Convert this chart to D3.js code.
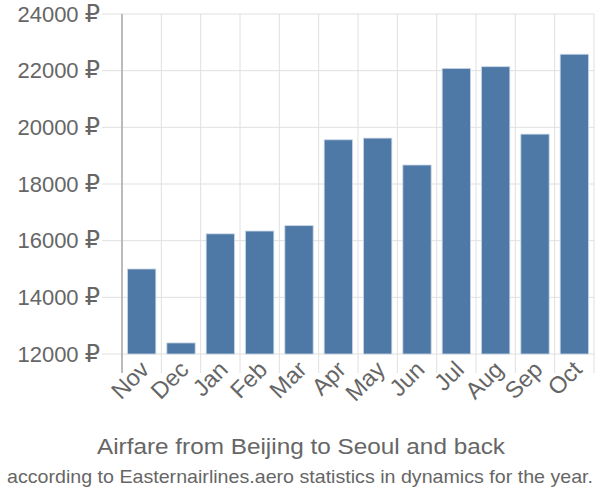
<!DOCTYPE html>
<html><head><meta charset="utf-8">
<script src="https://cdn.jsdelivr.net/npm/d3@7"></script>
<style>body{margin:0;background:#fff}text{font-family:"Liberation Sans",Arial,sans-serif}</style>
</head><body><svg id="c" width="600" height="500"></svg>
<script>
const months = ["Nov","Dec","Jan","Feb","Mar","Apr","May","Jun","Jul","Aug","Sep","Oct"];
const prices = [15000,12390,16240,16340,16530,19560,19620,18670,22080,22140,19760,22580];
const yTicks = [12000,14000,16000,18000,20000,22000,24000];
const title = "Airfare from Beijing to Seoul and back";
const subtitle = "according to Easternairlines.aero statistics in dynamics for the year.";

const svg = d3.select("#c");
const L=122, R=594, T=14, B=354;
const x = d3.scaleBand().domain(months).range([L,R]).paddingInner(0.28).paddingOuter(0.14);
const y = d3.scaleLinear().domain([12000,24000]).range([B,T]);
const step = x.step();

// vertical grid
svg.append("g").selectAll("line").data(months.concat(["_end"])).join("line")
  .attr("x1",(d,i)=>L+i*step).attr("x2",(d,i)=>L+i*step)
  .attr("y1",T).attr("y2",373).attr("stroke","#e0e0e0").attr("stroke-width",1);
// horizontal grid
svg.append("g").selectAll("line").data(yTicks).join("line")
  .attr("x1",102).attr("x2",R).attr("y1",d=>y(d)).attr("y2",d=>y(d))
  .attr("stroke","#e0e0e0").attr("stroke-width",1);
// y axis line
svg.append("line").attr("x1",L).attr("x2",L).attr("y1",T).attr("y2",373).attr("stroke","#aaa").attr("stroke-width",1.5);

// bars
svg.append("g").selectAll("rect").data(prices).join("rect")
  .attr("x",(d,i)=>x(months[i])).attr("width",x.bandwidth())
  .attr("y",d=>y(d)).attr("height",d=>B-y(d))
  .attr("fill","#4e79a7").attr("stroke","#c9d6e6").attr("stroke-width",0.8);

// y labels
const yl = svg.append("g").selectAll("text").data(yTicks).join("text")
  .attr("x",100).attr("y",d=>y(d)).attr("dy","0.35em").attr("text-anchor","end")
  .attr("fill","#666").attr("font-size",22);
yl.append("tspan").text(d=>d+" ");
yl.append("tspan").attr("font-family","DejaVu Sans").attr("font-size",24).text("₽");

// x labels
svg.append("g").selectAll("text").data(months).join("text")
  .attr("transform",d=>`translate(${x(d)+x.bandwidth()/2+9},${371}) rotate(-45)`)
  .attr("text-anchor","end").attr("fill","#666").attr("font-size",23.5).text(d=>d);

svg.append("text").attr("x",301).attr("y",454).attr("text-anchor","middle").attr("fill","#666").attr("font-size",22)
  .attr("textLength",408).attr("lengthAdjust","spacingAndGlyphs").text(title);
svg.append("text").attr("x",300).attr("y",483).attr("text-anchor","middle").attr("fill","#666").attr("font-size",19)
  .attr("textLength",586).attr("lengthAdjust","spacingAndGlyphs").text(subtitle);
</script></body></html>
